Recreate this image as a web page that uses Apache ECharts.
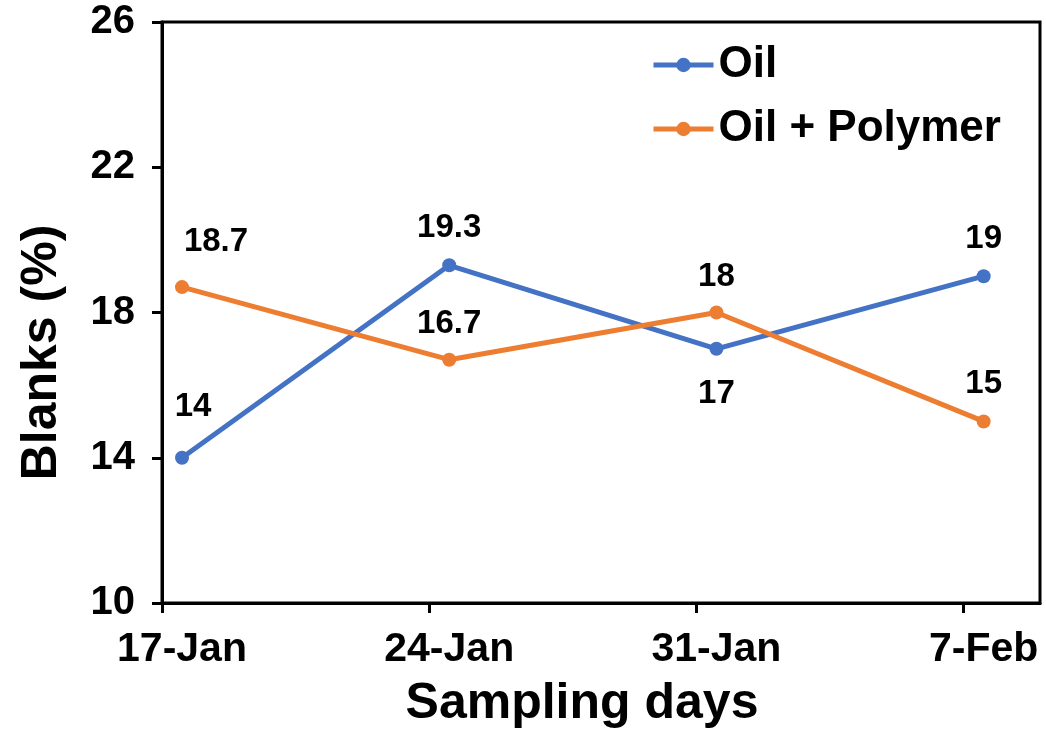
<!DOCTYPE html>
<html>
<head>
<meta charset="utf-8">
<title>Blanks by sampling day</title>
<script src="https://cdn.jsdelivr.net/npm/echarts@6/dist/echarts.min.js"></script>
<style>
  html, body { margin: 0; padding: 0; background: #fff; }
  #chart { width: 1046px; height: 734px; }
</style>
</head>
<body>
<div id="chart"></div>
<script>
// Sampling dates and their day number counted from the first sampling
const samplingDays = ['17-Jan', '24-Jan', '31-Jan', '7-Feb'];
const dayNumber = [0, 7, 14, 21];

// Blanks (%) per sampling day
const oilValues = [14, 19.3, 17, 19];
const oilPolymerValues = [18.7, 16.7, 18, 15];

// Y axis range and step
const yMin = 10, yMax = 26, yStep = 4;

// The date axis starts half a day before the first sampling
const axisLead = 0.524;
const axisSpan = 23;

// Value-label nudges [dx, dy] from each point centre
const oilLabelShift = [[11, -51], [0, -37], [0, 45], [0, -37]];
const oilPolymerLabelShift = [[34, -45], [0, -36], [0, -36], [0, -38]];

const FONT = '"Liberation Sans", Arial, sans-serif';

function buildSeriesData(values, shifts) {
  return values.map((v, i) => ({
    value: [dayNumber[i] + axisLead, v],
    label: { offset: shifts[i] }
  }));
}

const chart = echarts.init(document.getElementById('chart'), null, { renderer: 'canvas' });

const lineSeries = (name, color, values, shifts) => ({
  name: name,
  type: 'line',
  data: buildSeriesData(values, shifts),
  symbol: 'circle',
  symbolSize: 14,
  lineStyle: { color: color, width: 5 },
  itemStyle: { color: color },
  label: {
    show: true,
    position: 'inside',
    formatter: p => String(p.value[1]),
    color: '#000',
    fontFamily: FONT,
    fontWeight: 'bold',
    fontSize: 33
  },
  emphasis: { disabled: true },
  animation: false,
  z: 3
});

chart.setOption({
  animation: false,
  backgroundColor: '#fff',
  grid: {
    left: 162, right: 6, top: 22, bottom: 131,
    show: true, borderColor: '#000', borderWidth: 3
  },
  legend: {
    orient: 'vertical',
    left: 646,
    top: 38,
    itemWidth: 60,
    itemHeight: 18,
    itemGap: 20,
    lineStyle: { width: 5 },
    textStyle: { fontFamily: FONT, fontWeight: 'bold', fontSize: 44, color: '#000' },
    data: ['Oil', 'Oil + Polymer']
  },
  xAxis: {
    type: 'value',
    min: 0,
    max: axisSpan,
    interval: 7,
    name: 'Sampling days',
    nameLocation: 'middle',
    nameGap: 76,
    nameTextStyle: {
      fontFamily: FONT, fontWeight: 'bold', fontSize: 50, color: '#000',
      padding: [0, 38, 0, 0]
    },
    axisLine: { show: true, lineStyle: { color: '#000', width: 3 } },
    axisTick: { show: true, length: 10, lineStyle: { color: '#000', width: 3 } },
    splitLine: { show: false },
    axisLabel: {
      showMaxLabel: false,
      margin: 26,
      padding: [0, 0, 0, 40],
      color: '#000',
      fontFamily: FONT,
      fontWeight: 'bold',
      fontSize: 41,
      formatter: v => {
        const i = dayNumber.indexOf(Math.round(v));
        return i >= 0 ? samplingDays[i] : '';
      }
    }
  },
  yAxis: {
    type: 'value',
    min: yMin,
    max: yMax,
    interval: yStep,
    name: 'Blanks (%)',
    nameLocation: 'middle',
    nameGap: 95,
    nameTextStyle: {
      fontFamily: FONT, fontWeight: 'bold', fontSize: 50, color: '#000',
      padding: [0, 80, 0, 0]
    },
    axisLine: { show: true, lineStyle: { color: '#000', width: 3 } },
    axisTick: { show: true, length: 10, lineStyle: { color: '#000', width: 3 } },
    splitLine: { show: false },
    axisLabel: {
      margin: 27,
      color: '#000',
      fontFamily: FONT,
      fontWeight: 'bold',
      fontSize: 40
    }
  },
  series: [
    lineSeries('Oil', '#4472C4', oilValues, oilLabelShift),
    lineSeries('Oil + Polymer', '#ED7D31', oilPolymerValues, oilPolymerLabelShift)
  ]
});
</script>
</body>
</html>
